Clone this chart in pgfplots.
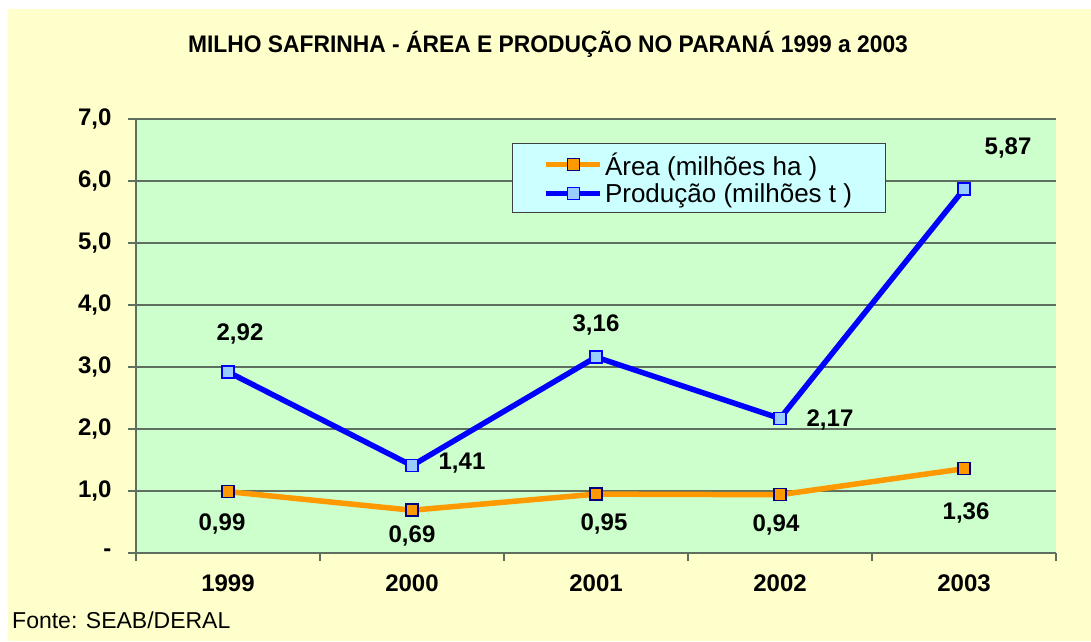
\documentclass[border=0pt]{standalone}
\usepackage{fontspec}
\setmainfont{Liberation Sans}
\usepackage{pgfplots}
\usepackage{pgfplotstable}
\pgfplotsset{compat=1.18}
\definecolor{bgyellow}{HTML}{FFFFCC}
\definecolor{plotgreen}{HTML}{CCFFCC}
\definecolor{legcyan}{HTML}{CCFFFF}
\definecolor{gridgray}{HTML}{5F6F5F}
\definecolor{areaor}{HTML}{FF9900}
\definecolor{prodblue}{HTML}{0000FF}
\definecolor{lightblue}{HTML}{99CCFF}
\definecolor{navy}{HTML}{000080}

\pgfplotstableread{
x y lbl dx dy
0 0.99 0,99 -6 -32
1 0.69 0,69 0 -26
2 0.95 0,95 8 -30
3 0.94 0,94 -4 -30
4 1.36 1,36 2 -44
}\areatable
\pgfplotstableread{
x y lbl dx dy
0 2.92 2,92 12 38
1 1.41 1,41 50 2
2 3.16 3,16 0 32
3 2.17 2,17 50 -2
4 5.87 5,87 44 41
}\prodtable

\begin{document}
\begin{tikzpicture}[x=1pt,y=1pt]
\useasboundingbox (0,0) rectangle (1091,641);
\fill[white] (0,0) rectangle (1091,641);
\fill[bgyellow] (8,0) rectangle (1091,632);
\node[font=\fontsize{24}{24}\selectfont\bfseries] at (548,597) {\scalebox{0.951}[1]{MILHO SAFRINHA - ÁREA E PRODUÇÃO NO PARANÁ 1999 a 2003}};
\node[font=\fontsize{23}{23}\selectfont, anchor=west, inner sep=0pt] at (12,21) {Fonte: SEAB/DERAL};
\begin{axis}[
  at={(136pt,88pt)}, anchor=south west,
  scale only axis, width=920pt, height=434pt,
  xmin=-0.5, xmax=4.5, ymin=0, ymax=7,
  axis background/.style={fill=plotgreen},
  axis x line=bottom, axis y line=left,
  axis line style={draw=gridgray, line width=1.5pt, -},
  xtick={0,1,2,3,4},
  xticklabels={1999,2000,2001,2002,2003},
  major x tick style={draw=none},
  minor xtick={-0.5,0.5,1.5,2.5,3.5,4.5},
  ytick={0,1,2,3,4,5,6,7},
  yticklabels={{-},{1,0},{2,0},{3,0},{4,0},{5,0},{6,0},{7,0}},
  ymajorgrids, grid style={gridgray, line width=1.5pt},
  tick align=outside, major tick length=8pt, minor tick length=8pt,
  tick style={gridgray, line width=1.2pt},
  ticklabel style={font=\fontsize{24}{24}\selectfont\bfseries},
  xticklabel style={yshift=-10pt},
  yticklabel style={xshift=-13pt},
  clip=false,
  legend style={at={(0.4087,0.9447)}, anchor=north west, fill=legcyan,
    draw=black!75, line width=1pt, font=\fontsize{26}{26}\selectfont,
    inner xsep=31pt, inner ysep=7pt, row sep=3pt},
  legend cell align=left,
  legend image code/.code={\draw[mark repeat=2,mark phase=2] plot coordinates {(0pt,0pt) (27pt,0pt) (54pt,0pt)};},
  nodes near coords={\pgfplotspointmeta},
  point meta=explicit symbolic,
  visualization depends on={\thisrow{dx} \as \dx},
  visualization depends on={\thisrow{dy} \as \dy},
  nodes near coords style={anchor=center, xshift=\dx pt, yshift=\dy pt, text=black, font=\fontsize{24}{24}\selectfont\bfseries},
]
\addplot[areaor, line width=5.5pt, mark=square*, mark size=6pt,
  mark options={fill=areaor, draw=navy, line width=1.5pt}]
  table[x=x, y=y, meta=lbl] {\areatable};
\addlegendentry{Área (milhões ha )}
\addplot[prodblue, line width=5.5pt, mark=square*, mark size=6pt,
  mark options={fill=lightblue, draw=prodblue, line width=1.5pt}]
  table[x=x, y=y, meta=lbl] {\prodtable};
\addlegendentry{Produção (milhões t )}
\end{axis}
\end{tikzpicture}
\end{document}
